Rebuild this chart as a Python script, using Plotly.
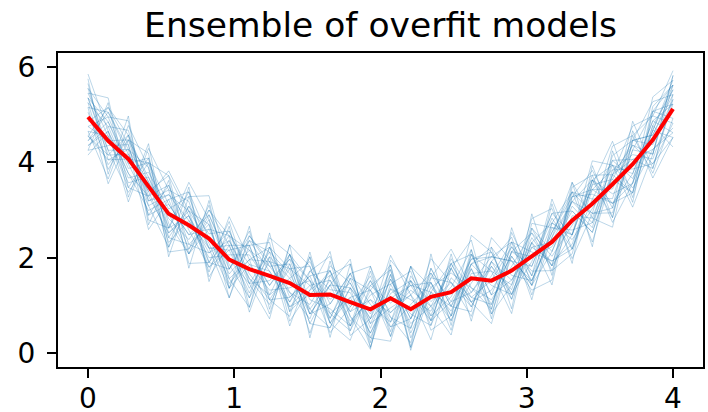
import plotly.graph_objects as go

x_vals = [i * 4 / 29 for i in range(30)]

mean_curve = [4.95, 4.45, 4.07, 3.49, 2.92, 2.68, 2.40, 1.96, 1.76, 1.62, 1.47, 1.22, 1.23, 1.07, 0.92,
              1.15, 0.92, 1.18, 1.28, 1.57, 1.52, 1.73, 2.02, 2.33, 2.78, 3.13, 3.54, 3.96, 4.47, 5.12]

model_01 = [5.35, 4.15, 4.57, 3.29, 3.52, 2.28, 2.70, 1.46, 1.96, 2.22, 1.17, 1.62, 0.63, 1.37, 0.72, 1.65, 0.52, 1.78, 0.98, 1.77, 1.02, 2.13, 1.82, 2.83, 2.18, 3.43, 3.44, 4.36, 4.17, 5.62]
model_02 = [4.45, 4.85, 3.87, 3.99, 2.62, 2.88, 1.80, 2.36, 1.46, 1.52, 1.97, 0.82, 1.43, 0.57, 1.52, 0.85, 1.32, 0.98, 1.78, 0.97, 1.82, 1.33, 2.62, 2.13, 3.08, 2.63, 4.04, 3.66, 4.67, 4.52]
model_03 = [5.85, 4.65, 3.67, 3.79, 3.02, 3.28, 2.20, 2.16, 2.26, 1.22, 1.57, 1.92, 1.03, 1.67, 1.02, 0.65, 1.82, 1.38, 0.88, 1.87, 2.22, 1.63, 1.52, 2.53, 3.38, 3.23, 3.24, 4.56, 4.97, 5.92]
model_04 = [4.25, 4.35, 4.37, 2.89, 3.12, 2.48, 2.90, 1.86, 1.16, 1.92, 0.97, 1.22, 1.73, 0.77, 0.32, 1.35, 0.82, 0.58, 1.58, 1.17, 1.52, 2.23, 1.72, 1.73, 2.88, 2.83, 3.94, 3.46, 4.27, 4.72]
model_05 = [5.15, 5.05, 4.17, 3.39, 2.42, 3.08, 2.50, 2.56, 1.66, 1.12, 1.77, 1.42, 0.83, 1.17, 1.32, 1.85, 0.32, 1.28, 1.88, 2.07, 1.22, 1.53, 2.32, 2.73, 2.48, 3.73, 3.74, 4.06, 3.87, 5.42]
model_06 = [4.65, 4.55, 3.47, 4.09, 2.72, 2.08, 2.60, 1.66, 2.16, 1.82, 1.27, 0.72, 1.83, 1.47, 0.62, 0.95, 1.22, 1.68, 0.78, 1.47, 2.02, 1.93, 1.52, 2.43, 3.18, 2.93, 2.94, 4.26, 5.07, 4.92]
model_07 = [5.55, 4.25, 4.27, 3.59, 2.32, 2.78, 2.00, 2.06, 2.06, 1.42, 2.07, 1.12, 0.93, 0.57, 1.22, 1.45, 0.62, 0.98, 1.38, 2.17, 0.92, 2.33, 2.12, 1.93, 2.28, 3.53, 3.64, 3.36, 4.67, 5.72]
model_08 = [4.75, 4.95, 3.97, 3.09, 3.32, 2.98, 2.30, 1.36, 2.36, 1.72, 1.07, 1.72, 1.33, 1.27, 0.42, 1.25, 1.52, 0.68, 1.08, 1.27, 1.92, 1.23, 1.92, 2.93, 2.98, 2.53, 3.84, 4.16, 4.07, 5.22]
model_09 = [5.05, 3.95, 4.47, 3.69, 2.82, 2.38, 3.00, 2.26, 1.36, 2.02, 1.57, 0.92, 1.53, 0.87, 1.12, 0.55, 1.02, 1.48, 0.68, 1.67, 1.72, 1.43, 2.42, 1.83, 3.28, 3.33, 3.14, 3.76, 4.87, 4.62]
model_10 = [4.35, 4.75, 4.67, 3.19, 3.42, 3.18, 1.90, 2.46, 1.86, 1.32, 1.37, 1.52, 0.73, 1.57, 0.52, 1.55, 0.72, 1.58, 1.48, 1.07, 1.32, 2.03, 1.42, 2.63, 2.58, 2.73, 4.14, 4.46, 4.37, 5.32]
model_11 = [5.25, 4.75, 3.77, 2.99, 3.22, 2.18, 2.80, 1.76, 2.36, 2.12, 0.87, 1.32, 1.63, 0.97, 1.42, 1.05, 1.42, 0.78, 1.18, 1.97, 2.12, 1.13, 2.22, 2.33, 3.18, 3.63, 3.34, 3.56, 4.77, 5.52]
model_12 = [4.55, 4.05, 4.27, 3.89, 2.52, 2.88, 2.10, 2.36, 1.56, 1.02, 1.87, 0.62, 1.43, 1.37, 0.82, 1.75, 0.42, 1.38, 1.68, 1.37, 1.12, 1.83, 2.52, 2.03, 2.68, 3.43, 3.84, 3.86, 3.97, 4.52]
model_13 = [5.45, 4.55, 3.57, 3.69, 2.62, 3.38, 2.40, 1.56, 1.96, 1.92, 1.77, 1.82, 0.63, 1.17, 0.42, 1.35, 1.12, 0.88, 1.78, 1.07, 1.62, 2.33, 1.62, 2.73, 2.38, 3.03, 3.64, 4.46, 4.57, 5.42]
model_14 = [4.85, 5.15, 4.37, 2.89, 3.52, 2.58, 1.80, 2.16, 1.26, 2.22, 1.27, 1.02, 1.73, 0.47, 1.32, 0.75, 0.52, 1.68, 1.08, 1.87, 1.42, 1.23, 2.32, 1.83, 3.38, 2.93, 3.04, 4.26, 4.17, 5.82]
model_15 = [5.65, 4.05, 4.07, 3.99, 3.12, 2.48, 2.60, 2.46, 2.16, 1.42, 1.97, 1.52, 1.13, 1.47, 0.72, 1.15, 1.42, 1.28, 0.98, 1.97, 2.02, 1.93, 1.82, 2.93, 2.48, 3.63, 3.94, 3.76, 4.87, 5.22]
model_16 = [4.15, 4.65, 3.77, 3.29, 2.52, 2.98, 2.70, 1.36, 1.86, 1.72, 0.97, 1.42, 1.53, 0.67, 1.12, 0.85, 1.22, 0.68, 1.88, 1.17, 1.02, 2.13, 2.02, 2.23, 2.98, 2.53, 3.74, 4.36, 3.97, 4.82]
model_17 = [5.25, 3.85, 4.57, 3.59, 2.92, 2.08, 2.90, 1.96, 1.46, 2.12, 1.67, 0.82, 1.03, 1.67, 0.62, 1.55, 0.72, 1.48, 0.78, 2.07, 1.22, 2.23, 1.52, 2.53, 3.28, 3.43, 3.14, 3.56, 4.67, 5.62]
model_18 = [4.75, 4.45, 4.47, 3.19, 3.32, 2.78, 2.20, 2.26, 2.26, 1.12, 1.17, 1.62, 1.73, 0.87, 1.52, 0.65, 1.52, 1.08, 1.48, 0.97, 1.92, 1.53, 2.22, 1.93, 2.18, 3.23, 4.04, 4.06, 4.27, 4.62]
model_19 = [5.35, 4.85, 3.97, 4.09, 2.42, 2.28, 2.10, 2.56, 1.56, 1.22, 2.07, 0.92, 0.53, 1.37, 0.12, 1.65, 0.12, 1.28, 0.68, 1.77, 0.82, 2.03, 1.42, 2.13, 3.18, 2.73, 3.74, 3.36, 5.07, 5.22]
model_20 = [4.55, 4.15, 4.17, 3.39, 3.72, 2.88, 1.90, 1.76, 2.46, 1.92, 1.07, 2.02, 0.83, 0.47, 1.72, 0.45, 1.82, 0.78, 1.98, 1.27, 1.82, 1.13, 2.72, 2.63, 2.48, 3.63, 2.84, 4.46, 4.57, 5.52]
model_21 = [5.75, 3.75, 4.97, 2.69, 3.62, 1.78, 3.20, 1.36, 2.66, 0.92, 2.27, 0.32, 1.93, 0.57, 1.82, 0.35, 1.52, 0.58, 2.08, 0.67, 2.22, 0.93, 2.92, 1.63, 3.58, 2.23, 4.24, 3.16, 5.07, 5.62]
model_22 = [4.25, 5.25, 3.27, 4.39, 2.22, 3.48, 1.50, 2.66, 0.96, 2.52, 0.87, 2.02, 0.33, 1.87, 0.22, 1.85, 0.12, 2.08, 0.58, 2.17, 0.72, 2.63, 1.42, 3.13, 1.88, 3.93, 2.84, 4.66, 3.67, 4.52]
model_23 = [5.45, 5.35, 3.47, 3.29, 3.82, 2.98, 1.70, 2.86, 1.96, 0.82, 2.07, 1.52, 0.43, 0.97, 1.62, 0.55, 0.72, 1.98, 1.48, 0.77, 1.92, 2.43, 1.22, 2.43, 3.58, 2.83, 2.64, 4.46, 5.27, 5.42]
model_24 = [4.65, 3.65, 4.77, 3.89, 2.12, 2.18, 3.10, 1.56, 0.96, 2.22, 1.77, 0.42, 1.63, 1.87, 0.32, 0.25, 1.62, 0.98, 0.38, 2.07, 1.72, 0.83, 2.62, 1.83, 2.48, 4.03, 3.94, 3.06, 4.17, 5.82]
model_25 = [5.55, 4.95, 4.87, 2.79, 2.62, 3.58, 2.80, 1.16, 2.26, 2.32, 0.67, 1.32, 2.13, 0.37, 0.72, 2.05, 1.22, 0.28, 1.78, 2.37, 0.82, 1.43, 2.82, 3.03, 1.98, 2.93, 4.34, 4.56, 3.77, 4.92]
model_26 = [4.35, 4.65, 3.17, 4.29, 3.42, 1.88, 1.90, 2.76, 1.46, 0.72, 2.27, 1.82, 0.73, 1.67, 1.82, 0.75, 0.22, 1.78, 0.98, 0.87, 2.42, 1.93, 1.32, 1.53, 3.48, 3.73, 2.74, 3.56, 5.37, 5.72]
model_27 = [5.15, 3.55, 4.47, 4.19, 2.02, 3.28, 3.30, 1.76, 2.56, 1.12, 0.77, 2.12, 0.63, 0.27, 1.42, 1.75, 0.06, 1.58, 2.18, 1.37, 0.92, 2.53, 1.62, 3.23, 2.18, 3.53, 4.44, 3.26, 4.77, 4.32]
model_28 = [4.45, 5.05, 4.27, 2.59, 3.22, 3.38, 1.60, 2.26, 1.16, 2.42, 2.07, 0.82, 1.43, 1.97, 0.12, 1.45, 1.72, 0.48, 0.78, 2.47, 2.12, 1.23, 2.32, 1.43, 3.28, 3.83, 3.04, 4.86, 3.87, 5.32]
model_29 = [5.35, 4.25, 3.37, 3.99, 3.72, 2.08, 3.00, 2.46, 0.86, 2.02, 0.57, 1.72, 2.03, 0.77, 0.08, 1.95, 1.42, 1.48, 0.48, 1.87, 2.02, 2.33, 1.12, 2.73, 3.38, 2.33, 3.74, 4.76, 4.97, 4.82]
model_30 = [4.55, 5.15, 4.57, 3.09, 2.22, 3.08, 2.20, 1.16, 2.46, 1.82, 1.87, 0.62, 0.53, 1.57, 1.32, 0.35, 1.82, 0.68, 1.88, 1.07, 0.62, 2.13, 2.52, 1.73, 2.08, 3.63, 3.14, 3.36, 5.17, 5.62]

ensemble = [model_01, model_02, model_03, model_04, model_05, model_06, model_07, model_08, model_09, model_10,
            model_11, model_12, model_13, model_14, model_15, model_16, model_17, model_18, model_19, model_20,
            model_21, model_22, model_23, model_24, model_25, model_26, model_27, model_28, model_29, model_30]

title_text = "Ensemble of overfit models"
x_ticks = [0, 1, 2, 3, 4]
y_ticks = [0, 2, 4, 6]

fig = go.Figure()
for m in ensemble:
    fig.add_trace(go.Scatter(x=x_vals, y=m, mode="lines",
                             line=dict(color="rgba(31,119,180,0.3)", width=1),
                             showlegend=False, hoverinfo="skip"))
fig.add_trace(go.Scatter(x=x_vals, y=mean_curve, mode="lines",
                         line=dict(color="#ff0000", width=4), showlegend=False))

axis_common = dict(showgrid=False, zeroline=False, showline=True, linecolor="black", linewidth=2.3,
                   mirror=True, ticks="outside", ticklen=9, tickwidth=2.3, tickcolor="black",
                   automargin=False,
                   tickfont=dict(family="DejaVu Sans", size=28, color="black"))

fig.update_layout(
    width=708, height=412,
    margin=dict(l=58, r=5, t=53, b=45, autoexpand=False),
    paper_bgcolor="white", plot_bgcolor="white",
    title=dict(text=title_text, x=0.5375, xanchor="center", y=0.94, yanchor="middle", yref="container",
               font=dict(family="DejaVu Sans", size=34.5, color="black")),
    xaxis=dict(range=[-0.205, 4.205], tickvals=x_ticks, ticklabelstandoff=-4, **axis_common),
    yaxis=dict(range=[-0.29, 6.29], tickvals=y_ticks, ticklabelstandoff=6, **axis_common),
)

fig.write_html("out.html")
